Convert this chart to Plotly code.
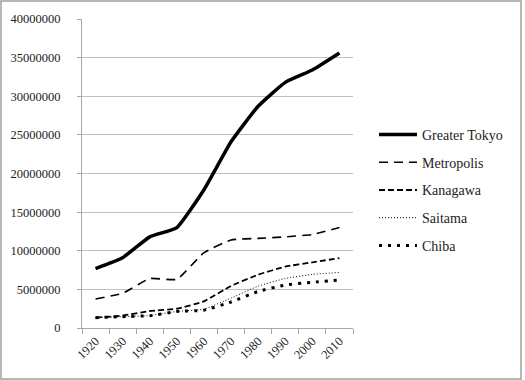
import plotly.graph_objects as go

years = ["1920", "1930", "1940", "1950", "1960", "1970", "1980", "1990", "2000", "2010"]
greater_tokyo = [7700000, 9100000, 11800000, 13000000, 17900000, 24100000, 28700000, 31800000, 33400000, 35600000]
metropolis = [3750000, 4500000, 6400000, 6300000, 9750000, 11400000, 11600000, 11800000, 12100000, 13000000]
kanagawa = [1350000, 1600000, 2200000, 2500000, 3450000, 5450000, 6900000, 7950000, 8500000, 9050000]
saitama = [1320000, 1460000, 1610000, 2150000, 2430000, 3870000, 5420000, 6410000, 6940000, 7190000]
chiba = [1340000, 1470000, 1590000, 2140000, 2310000, 3370000, 4740000, 5560000, 5930000, 6220000]

series = [
    ("Greater Tokyo", greater_tokyo, dict(color="black", width=3.5, dash="solid")),
    ("Metropolis", metropolis, dict(color="black", width=1.6, dash="9px,6px")),
    ("Kanagawa", kanagawa, dict(color="black", width=1.8, dash="6px,3px")),
    ("Saitama", saitama, dict(color="black", width=1, dash="1px,2px")),
    ("Chiba", chiba, dict(color="black", width=3, dash="3px,6px")),
]

fig = go.Figure()
for i, (name, vals, line) in enumerate(series):
    fig.add_trace(go.Scatter(x=years, y=vals, name=name, mode="lines",
                             line=dict(shape="spline", smoothing=0.4, **line),
                             legendgroup=str(i)))

W, H = 525, 380
l, r, t, b = 82, 172, 19, 52
pw, ph = W - l - r, H - t - b

def px_x(x):
    return (x - l) / pw

def px_y(y):
    return (H - b - y) / ph

SERIF = "Times New Roman, Liberation Serif, serif"

fig.update_layout(
    width=W, height=H,
    margin=dict(l=l, r=r, t=t, b=b, autoexpand=False),
    paper_bgcolor="white", plot_bgcolor="white",
    font=dict(family=SERIF, size=12.5, color="#222222"),
    showlegend=True,
    legend=dict(x=px_x(374), y=px_y(119), xanchor="left", yanchor="top",
                tracegroupgap=6.5, itemwidth=38,
                font=dict(family=SERIF, size=14, color="#222222"),
                bgcolor="rgba(0,0,0,0)"),
    xaxis=dict(type="category", tickson="boundaries", range=[-0.5, 9.5],
               showline=True, linecolor="#a6a6a6", linewidth=1,
               ticks="outside", ticklen=5, tickcolor="#a6a6a6",
               tickangle=-45, showgrid=False, automargin=False,
               tickfont=dict(family=SERIF, size=12.5)),
    yaxis=dict(range=[0, 40000000], dtick=5000000, tickformat="d",
               showline=True, linecolor="#a6a6a6", linewidth=1,
               ticks="outside", ticklen=4, tickcolor="#a6a6a6",
               ticklabelstandoff=14,
               showgrid=True, gridcolor="#bfbfbf", gridwidth=1,
               zeroline=False, automargin=False,
               tickfont=dict(family=SERIF, size=12.5)),
    shapes=[dict(type="rect", xref="paper", yref="paper",
                 x0=px_x(1), x1=px_x(521), y0=px_y(379), y1=px_y(1),
                 line=dict(color="#a0a0a0", width=1.5))],
)

fig.write_html("out.html", config={"displayModeBar": False},
               post_script="document.body.style.margin='0';")
